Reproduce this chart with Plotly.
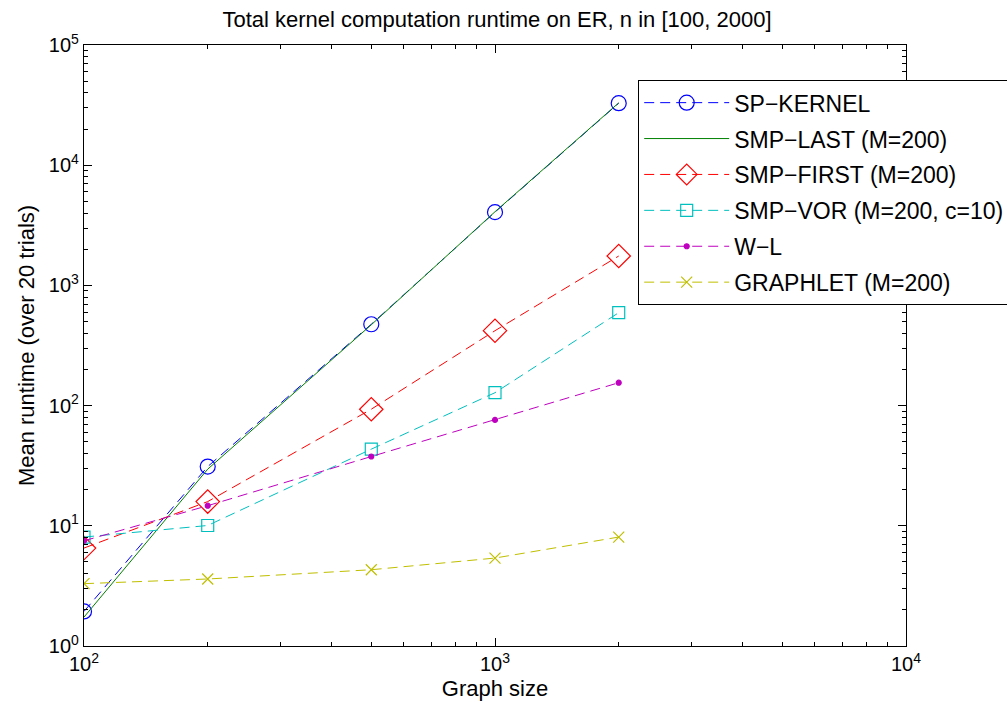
import plotly.graph_objects as go

sizes = [100, 200, 500, 1000, 2000]
sp_kernel = [1.94, 31.1, 475, 4070, 32800]
smp_last = [1.74, 29.6, 470, 4100, 33000]
smp_first = [6.53, 15.9, 93.3, 420, 1755]
smp_vor = [8.06, 10.06, 43.4, 128, 593]
wl = [7.5, 14.7, 37.7, 76, 155]
graphlet = [3.30, 3.61, 4.31, 5.39, 8.06]

names = ["SP−KERNEL", "SMP−LAST (M=200)", "SMP−FIRST (M=200)",
         "SMP−VOR (M=200, c=10)", "W−L", "GRAPHLET (M=200)"]

x_tickvals = [100, 1000, 10000]
x_ticktext = ["10<sup>2</sup>", "10<sup>3</sup>", "10<sup>4</sup>"]
y_tickvals = [1, 10, 100, 1000, 10000, 100000]
y_ticktext = ["10<sup>0</sup>", "10<sup>1</sup>", "10<sup>2</sup>",
              "10<sup>3</sup>", "10<sup>4</sup>", "10<sup>5</sup>"]
x_minor = [m * d for d in (100, 1000) for m in range(2, 10)]
y_minor = [m * d for d in (1, 10, 100, 1000, 10000) for m in range(2, 10)]

FONT = "Liberation Sans, Arial, Helvetica, sans-serif"
dash = "10px,6px"

series = [
    (names[0], sp_kernel, "rgb(0,0,255)", dash, "circle-open", 15),
    (names[1], smp_last, "rgb(0,128,0)", "solid", None, 0),
    (names[2], smp_first, "rgb(255,0,0)", dash, "diamond-open", 18),
    (names[3], smp_vor, "rgb(0,191,191)", dash, "square-open", 12),
    (names[4], wl, "rgb(191,0,191)", dash, "circle", 5),
    (names[5], graphlet, "rgb(191,191,0)", dash, "x-thin-open", 11),
]

fig = go.Figure()
for i, (nm, ys, col, ds, sym, sz) in enumerate(series):
    if sym is None:
        fig.add_trace(go.Scatter(x=sizes, y=ys, name=nm, mode="lines",
                                 line=dict(color=col, width=1, dash=ds),
                                 legendgroup=str(i)))
    else:
        fig.add_trace(go.Scatter(x=sizes, y=ys, name=nm, mode="lines+markers",
                                 line=dict(color=col, width=1, dash=ds),
                                 marker=dict(symbol=sym, size=sz, color=col,
                                             line=dict(color=col, width=1.2)),
                                 legendgroup=str(i)))

axis_common = dict(
    type="log", showline=True, linecolor="black", linewidth=1.2,
    mirror="allticks", ticks="inside", ticklen=8, tickcolor="black",
    tickwidth=1, showgrid=False, zeroline=False,
    tickfont=dict(family=FONT, size=20, color="black"),
)

fig.update_layout(
    xaxis=dict(range=[2, 4], tickvals=x_tickvals, ticktext=x_ticktext,
               minor=dict(ticks="inside", ticklen=4, tickcolor="black", tickwidth=1.2,
                          showgrid=False, tickmode="array", tickvals=x_minor),
               title=dict(text="Graph size", standoff=6,
                          font=dict(family=FONT, size=22, color="black")), **axis_common),
    yaxis=dict(range=[0, 5], tickvals=y_tickvals, ticktext=y_ticktext,
               minor=dict(ticks="inside", ticklen=4, tickcolor="black", tickwidth=1.2,
                          showgrid=False, tickmode="array", tickvals=y_minor),
               title=dict(text="Mean runtime (over 20 trials)", standoff=8,
                          font=dict(family=FONT, size=22, color="black")), **axis_common),
)

fig.update_layout(
    width=1007, height=717,
    margin=dict(l=84, r=101, t=45, b=71, autoexpand=False),
    paper_bgcolor="white", plot_bgcolor="white",
    title=dict(text="Total kernel computation runtime on ER, n in [100, 2000]",
               x=0.4935, xanchor="center", y=0.973, yanchor="middle",
               font=dict(family=FONT, size=22, color="black")),
    legend=dict(x=(638 - 84) / 822, xanchor="left", y=(646 - 80) / 601, yanchor="top",
                bgcolor="white", bordercolor="black", borderwidth=1.2,
                font=dict(family=FONT, size=23, color="black"),
                tracegroupgap=3, itemwidth=85),
    showlegend=True,
)

fig.write_html("out.html")
